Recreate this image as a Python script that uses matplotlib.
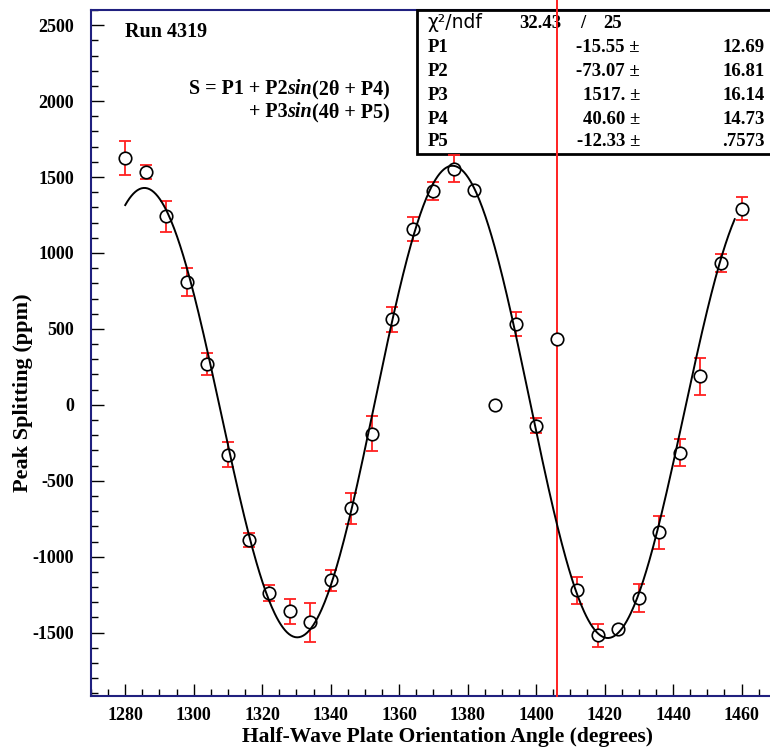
import numpy as np
import matplotlib.pyplot as plt
from matplotlib.patches import Rectangle
from matplotlib.ticker import MultipleLocator
from matplotlib.offsetbox import TextArea, HPacker, AnnotationBbox

plt.rcParams['font.family'] = 'Liberation Serif'
plt.rcParams['font.weight'] = 'bold'
plt.rcParams['axes.unicode_minus'] = False

# Data
angle = [1280, 1286, 1292, 1298, 1304, 1310, 1316, 1322, 1328, 1334, 1340,
         1346, 1352, 1358, 1364, 1370, 1376, 1382, 1388, 1394, 1400, 1406,
         1412, 1418, 1424, 1430, 1436, 1442, 1448, 1454, 1460]
splitting = [1623, 1533, 1241, 809, 268, -327, -891, -1239, -1360, -1432, -1156,
             -682, -189, 563, 1160, 1410, 1555, 1412, 2, 533, -136, 434,
             -1222, -1518, -1474, -1270, -840, -314, 188, 934, 1292]
error = [112, 46, 102, 89, 71, 82, 46, 55, 84, 127, 71,
         102, 113, 84, 78, 58, 90, 0, 0, 80, 48, 0,
         87, 78, 0, 91, 109, 91, 120, 58, 77]

# fit results (stats box)
par_names = ["P1", "P2", "P3", "P4", "P5"]
par_values = [-15.55, -73.07, 1517., 40.60, -12.33]
par_text = ["-15.55", "-73.07", "1517.", "40.60", "-12.33"]
par_errors = ["12.69", "16.81", "16.14", "14.73", ".7573"]
chi2 = "32.43"
ndf = "25"
fit_range = (1280, 1458)
cut_angle = 1406

W, H = 770, 749
def fx(px):
    return px / W
def fy(py):
    return 1 - py / H

navy = '#20207f'

fig = plt.figure(figsize=(W / 100, H / 100), dpi=100)
ax = fig.add_axes([fx(91), fy(695.7), (775.8 - 91) / W, (695.7 - 10) / H])

# fit curve from the fitted parameters
p1, p2, p3, p4, p5 = par_values
theta = np.linspace(fit_range[0], fit_range[1], 600)
fit = p1 + p2 * np.sin(np.radians(2 * theta + p4)) + p3 * np.sin(np.radians(4 * theta + p5))

ax.errorbar(angle, splitting, yerr=error, fmt='none', ecolor='#ff2020',
            elinewidth=1.3, capsize=4.3, capthick=1.3, zorder=5.5)
ax.plot(angle, splitting, 'o', ms=9, mfc='white', mec='black', mew=1.2,
        ls='none', zorder=6)
ax.plot(theta, fit, color='black', lw=1.4, zorder=7)
ax.axvline(cut_angle, ymin=0, ymax=1.02, color='#ff2020', lw=1.4,
           clip_on=False, zorder=5)

ax.set_xlim(1270, 1470)
ax.set_ylim(-1915, 2600)
ax.xaxis.set_major_locator(MultipleLocator(20))
ax.xaxis.set_minor_locator(MultipleLocator(5))
ax.yaxis.set_major_locator(MultipleLocator(500))
ax.yaxis.set_minor_locator(MultipleLocator(100))
ax.tick_params(which='both', direction='in', color='black', width=1,
               top=False, right=False, labelsize=13)
ax.tick_params(which='major', length=9)
ax.tick_params(which='minor', length=4.7)
ax.tick_params(axis='y', pad=12)
ax.tick_params(axis='x', pad=8)
for side in ['left', 'bottom', 'top']:
    ax.spines[side].set_color(navy)
    ax.spines[side].set_linewidth(1.5)
ax.spines['right'].set_visible(False)

fig.text(fx(447.5), fy(742), "Half-Wave Plate Orientation Angle (degrees)",
         ha='center', va='baseline', fontsize=15.5)
fig.text(fx(23.5), fy(393), "Peak Splitting (ppm)", rotation=90,
         ha='center', va='center', fontsize=16)

ax.text(fx(125), fy(32), "Run 4319", transform=fig.transFigure,
        ha='left', va='center', fontsize=14.5)


def formula_line(pieces, x, y, size=14.5):
    areas = [TextArea(t, textprops=dict(fontsize=size, fontweight='bold',
                                        fontstyle=st, family='Liberation Serif'))
             for t, st in pieces]
    row = HPacker(children=areas, align='baseline', pad=0, sep=0)
    ab = AnnotationBbox(row, (fx(x), fy(y)), xycoords='figure fraction',
                        box_alignment=(1, 0.5), frameon=False, pad=0)
    ax.add_artist(ab)


formula_line([("S = P1 + P2", 'normal'), ("sin", 'italic'), ("(2θ + P4)", 'normal')], 390, 89)
formula_line([("+ P3", 'normal'), ("sin", 'italic'), ("(4θ + P5)", 'normal')], 390, 112)

# stats box
box = Rectangle((fx(417), fy(154)), fx(780) - fx(417), fy(10) - fy(154),
                transform=fig.transFigure, facecolor='white', edgecolor='black',
                lw=2, zorder=4, clip_on=False)
ax.add_patch(box)
row_y = [23, 47, 71, 95, 119, 142]
ax.text(fx(428), fy(row_y[0]), "χ²/ndf", transform=fig.transFigure,
        family='DejaVu Sans', fontweight='normal', fontsize=13.5,
        ha='left', va='center', zorder=4.5)
ax.text(fx(561), fy(row_y[0]), chi2, transform=fig.transFigure,
        ha='right', va='center', fontsize=13.5, zorder=4.5)
ax.text(fx(580), fy(row_y[0]), "/", transform=fig.transFigure,
        ha='left', va='center', fontsize=13.5, zorder=4.5)
ax.text(fx(603), fy(row_y[0]), ndf, transform=fig.transFigure,
        ha='left', va='center', fontsize=13.5, zorder=4.5)
for i in range(5):
    y = fy(row_y[i + 1])
    ax.text(fx(428), y, par_names[i], transform=fig.transFigure,
            ha='left', va='center', fontsize=13.5, zorder=4.5)
    ax.text(fx(640), y, par_text[i] + " ±", transform=fig.transFigure,
            ha='right', va='center', fontsize=13.5, zorder=4.5)
    ax.text(fx(765), y, par_errors[i], transform=fig.transFigure,
            ha='right', va='center', fontsize=13.5, zorder=4.5)

fig.savefig("out.png", dpi=100)
